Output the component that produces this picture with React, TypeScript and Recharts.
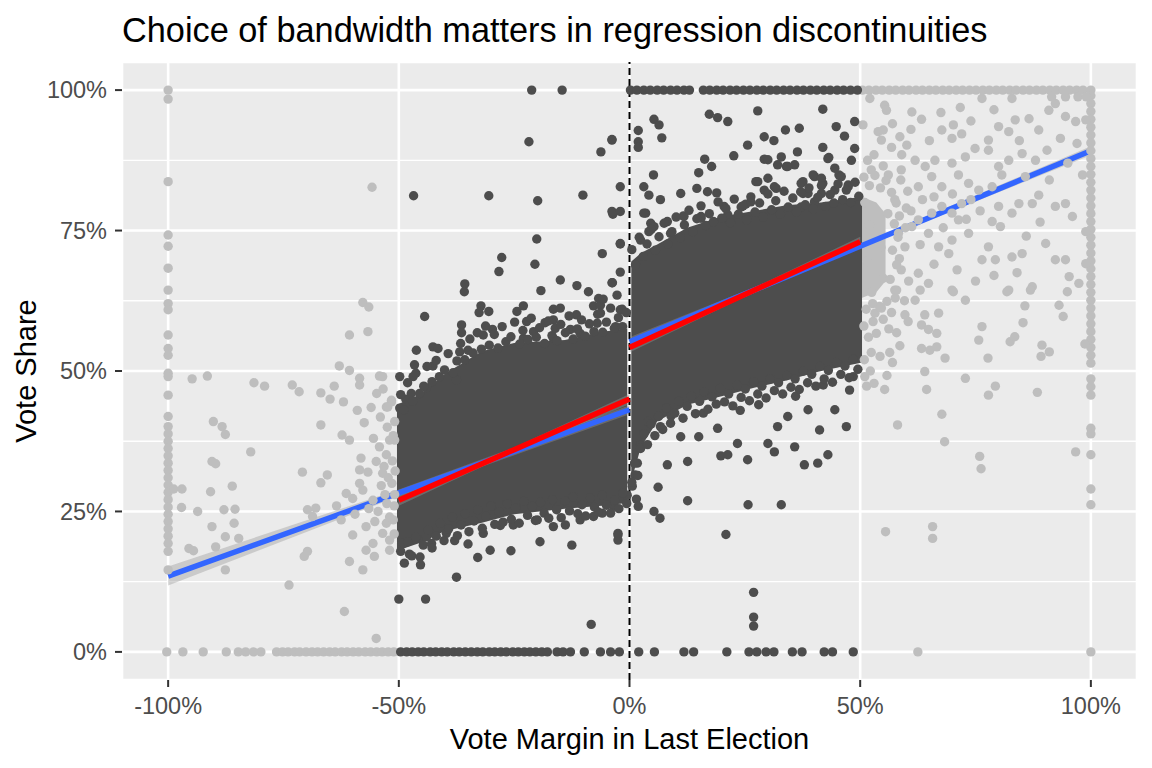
import {
  ComposedChart,
  Scatter,
  Area,
  Line,
  XAxis,
  YAxis,
  CartesianGrid,
  ReferenceLine,
  Label,
} from "recharts";

// values are in percent: x = vote margin, y = vote share
const xTicks = [-100, -50, 0, 50, 100];
const yTicks = [0, 25, 50, 75, 100];
const xMinorTicks = [-100, -75, -50, -25, 0, 25, 50, 75, 100];
const yMinorTicks = [0, 12.5, 25, 37.5, 50, 62.5, 75, 87.5, 100];

// rows of overlapping points at 0% and 100% vote share
const grayZeroRow = [
  -100.3, -96.8, -92.4, -87.4, -84.8, -83.2, -81.5, -79.9, -76.5, -75.2, -74.0,
  -72.6, -71.5, -70.1, -68.8, -67.6, -66.3, -65.0, -63.8, -62.4, -61.2, -59.9,
  -58.7, -57.3, -56.1, -54.8, -53.6, -52.3, -51.1, 62.5, 100.0,
];
const darkZeroRow = [
  -49.6, -48.3, -47.1, -45.8, -44.6, -43.2, -42.0, -40.7, -39.5, -38.1, -36.9,
  -35.6, -34.3, -33.0, -31.8, -30.4, -29.2, -27.9, -26.7, -25.3, -24.1, -22.8,
  -21.6, -20.3, -19.0, -17.8, -15.7, -14.4, -12.8, -9.8, -6.3, -4.1, -2.2, 2.0,
  5.4, 11.8, 13.9, 21.1, 25.9, 27.6, 29.6, 31.3, 35.3, 37.4, 42.2, 44.0, 48.5,
];
const darkTopRow = [
  0.2, 1.6, 3.1, 4.5, 6.0, 7.4, 8.9, 10.3, 11.8, 13.0, 16.0, 17.4, 18.9, 20.3,
  21.8, 23.2, 24.7, 26.1, 27.6, 29.0, 30.5, 31.9, 33.4, 34.8, 36.3, 37.7, 39.2,
  40.6, 42.1, 43.5, 45.0, 46.4, 47.9, 49.4,
];
const grayTopRow = [
  50.5, 51.9, 53.4, 54.8, 56.3, 57.7, 59.2, 60.6, 62.1, 63.5, 65.0, 66.4, 67.9,
  69.3, 70.8, 72.2, 73.7, 75.1, 76.6, 78.0, 79.5, 80.9, 82.4, 83.8, 85.3, 86.7,
  88.2, 89.6, 91.1, 92.5, 94.0, 95.4, 96.9, 98.3, 100.0,
];

// columns of points at -100% and +100% vote margin
const grayLeftCol = [
  100, 98.4, 83.7, 74.2, 72.2, 68.3, 64.4, 62.0, 60.9, 56.4, 54.0, 52.8, 49.6,
  49.0, 45.7, 41.9, 40.1, 38.8, 37.5, 36.2, 34.9, 33.6, 32.3, 31.0, 29.7, 28.4,
  27.1, 25.8, 24.5, 23.2, 21.9, 20.6, 19.3, 17.9, 14.6,
];
const grayRightCol = [
  99.0, 97.6, 96.2, 94.8, 93.4, 92.0, 90.6, 89.2, 87.8, 86.4, 85.0, 83.6, 82.2,
  80.8, 79.4, 78.0, 76.6, 75.2, 73.8, 72.4, 71.0, 69.6, 68.2, 66.8, 65.4, 64.0,
  62.6, 61.2, 59.8, 58.4, 57.0, 55.6, 54.2, 52.8, 51.4, 48.6, 47.2, 45.7, 39.8,
  38.8, 35.1, 29.0, 26.2,
];

const grayLeftPoints: [number, number][] = [
  [-94.8, 48.6], [-91.5, 49.1], [-90.2, 41.0], [-88.3, 40.1], [-87.6, 38.7],
  [-82.1, 35.6], [-81.4, 47.9], [-79.1, 47.3], [-90.5, 33.9], [-89.7, 33.5],
  [-98.8, 29.0], [-97.0, 29.0], [-90.8, 28.5], [-86.1, 29.5], [-97.1, 25.7],
  [-93.6, 25.0], [-87.9, 25.3], [-85.5, 25.4], [-85.7, 22.9], [-90.5, 22.3],
  [-87.6, 20.5], [-84.7, 20.2], [-95.5, 18.4], [-94.5, 18.0], [-89.7, 18.7],
  [-87.6, 14.6], [-73.1, 47.5], [-71.6, 46.3], [-66.9, 46.1], [-64.9, 45.0],
  [-64.0, 47.3], [-66.9, 40.4], [-62.9, 50.9], [-60.7, 50.1], [-58.5, 48.7],
  [-58.5, 47.5], [-54.2, 49.1], [-60.7, 56.4], [-56.7, 57.0], [-57.8, 62.2],
  [-56.5, 61.4], [-54.8, 46.0], [-51.6, 44.8], [-52.7, 43.6], [-57.5, 40.8],
  [-62.3, 38.6], [-60.7, 37.7], [-54.2, 36.5], [-52.7, 35.1], [-54.9, 33.9],
  [-70.9, 32.0], [-66.9, 30.1], [-58.5, 32.4], [-56.7, 32.0], [-53.5, 31.8],
  [-61.4, 28.2], [-60.0, 27.3], [-57.8, 28.8], [-55.6, 27.0], [-69.8, 25.3],
  [-68.0, 25.6], [-68.7, 24.1], [-62.5, 23.5], [-60.0, 20.8], [-57.1, 22.3],
  [-55.6, 19.3], [-57.1, 18.1], [-53.5, 21.1], [-52.0, 19.9], [-52.7, 22.9],
  [-55.3, 17.0], [-52.0, 18.1], [-60.7, 16.1], [-57.8, 14.6], [-70.5, 17.0],
  [-69.8, 17.9], [-73.8, 11.9], [-61.8, 7.2], [-54.9, 2.4], [-55.8, 82.7],
  [-53.5, 49.0], [-51.6, 44.5], [-52.4, 43.6], [-50.9, 37.7], [-52.0, 37.7],
  [-51.5, 30.0], [-51.0, 26.0], [-52.0, 24.0], [-51.0, 21.0], [-53.0, 28.0],
  [-54.5, 25.0], [-56.5, 25.5], [-58.5, 30.0], [-52.5, 40.0], [-51.2, 38.5],
  [-55.5, 38.0], [-53.2, 33.0], [-51.4, 34.0], [-58.2, 34.5], [-59.5, 24.5],
  [-63.5, 26.0], [-65.5, 31.5], [-59.0, 43.0], [-56.0, 43.5], [-62.0, 44.5],
  [-50.9, 28.0], [-51.2, 23.5], [-52.6, 26.4], [-53.8, 29.6], [-50.8, 32.2],
  [-52.3, 31.0], [-54.0, 41.8], [-50.9, 41.0], [-53.4, 46.8], [-55.2, 23.2],
];

const grayRightPoints: [number, number][] = [
  [52.1, 98.5], [55.3, 97.3], [55.7, 96.4], [61.2, 96.1], [63.3, 94.8],
  [67.5, 96.0], [71.7, 96.9], [76.4, 98.5], [82.9, 98.5], [50.6, 93.8],
  [53.9, 92.6], [55.0, 92.9], [58.6, 91.7], [60.1, 90.2], [54.6, 91.1],
  [56.8, 89.8], [67.7, 92.9], [69.9, 91.4], [72.0, 92.2], [70.2, 93.8],
  [77.8, 91.1], [80.0, 93.5], [82.2, 92.6], [83.6, 94.7], [86.6, 94.9],
  [88.7, 92.9], [90.9, 96.4], [92.3, 97.6], [94.5, 95.3], [96.7, 94.4],
  [98.9, 94.7], [93.4, 91.4], [90.5, 89.3], [88.0, 87.5], [85.1, 88.7],
  [82.2, 87.5], [80.0, 86.4], [77.8, 89.3], [74.9, 89.6], [72.8, 88.1],
  [66.2, 87.5], [64.1, 86.4], [61.9, 87.5], [69.9, 87.0], [71.3, 84.9],
  [58.9, 85.8], [56.1, 84.9], [52.4, 85.8], [65.5, 84.6], [67.7, 82.8],
  [62.6, 82.8], [73.5, 83.4], [75.7, 82.2], [78.6, 82.8], [80.7, 84.9],
  [85.8, 84.6], [88.7, 81.3], [87.3, 79.8], [98.2, 84.9], [92.3, 79.3],
  [94.5, 79.8], [96.0, 77.5], [98.9, 74.8], [84.4, 79.8], [82.9, 78.1],
  [80.0, 79.3], [78.6, 76.6], [80.4, 75.7], [72.0, 79.8], [69.9, 78.1],
  [67.7, 79.3], [71.3, 76.9], [73.5, 74.5], [69.9, 73.3], [65.5, 78.1],
  [62.6, 76.9], [64.8, 74.5], [61.2, 75.7], [58.3, 74.5], [59.7, 72.1],
  [67.0, 72.1], [69.2, 70.9], [77.8, 72.1], [79.3, 69.8], [76.4, 69.8],
  [82.9, 70.3], [85.1, 70.9], [90.2, 72.7], [92.3, 69.8], [94.5, 69.8],
  [95.3, 66.8], [97.4, 65.6], [98.9, 69.1], [87.3, 65.0], [82.2, 64.4],
  [58.9, 68.0], [62.6, 67.4], [64.8, 65.6], [69.9, 64.4], [72.8, 62.6],
  [61.9, 62.6], [57.5, 64.4], [53.2, 60.3], [54.6, 61.2], [52.8, 58.8],
  [53.5, 56.7], [56.8, 60.4], [59.7, 60.0], [60.4, 58.8], [57.9, 56.8],
  [63.3, 58.2], [64.8, 57.4], [66.6, 56.7], [67.0, 60.3], [64.0, 60.0],
  [63.3, 54.0], [65.1, 53.7], [66.6, 54.3], [52.4, 53.3], [54.3, 52.6],
  [56.4, 53.3], [68.4, 52.3], [64.0, 49.9], [51.4, 47.3], [55.3, 46.7],
  [64.4, 46.7], [72.8, 48.7], [77.8, 45.7], [79.3, 47.3], [88.4, 46.2],
  [77.7, 52.3], [75.7, 55.5], [76.4, 57.9], [82.5, 55.2], [83.5, 56.1],
  [85.3, 58.6], [85.7, 61.6], [89.4, 54.6], [91.0, 53.4], [89.2, 52.6],
  [93.1, 61.7], [94.0, 59.7], [70.2, 64.1], [81.8, 64.1], [86.9, 64.4],
  [94.9, 64.1], [63.0, 64.4], [57.9, 64.4], [67.7, 42.3], [58.1, 40.4],
  [68.3, 37.4], [75.9, 34.8], [76.2, 32.6], [55.5, 21.4], [65.7, 22.3],
  [65.7, 20.2], [98.7, 54.8], [96.7, 35.6], [91.5, 98.8], [94.5, 98.8],
  [97.2, 98.8], [99.0, 98.8], [57.5, 80.5], [60.0, 79.0], [63.5, 80.5],
  [66.0, 81.0], [70.0, 81.5], [74.0, 80.5], [76.0, 78.5], [73.0, 77.0],
  [68.0, 75.5], [63.0, 72.5], [66.0, 69.0], [71.0, 68.0], [75.0, 66.0],
  [79.0, 67.0], [84.0, 67.5], [86.0, 74.0], [89.0, 76.5], [91.0, 84.0],
  [95.0, 87.0], [97.0, 90.5], [84.5, 91.0], [79.0, 96.5], [74.0, 94.5],
  [65.0, 91.0], [61.0, 93.0], [59.0, 88.5], [57.0, 94.0], [53.0, 88.5],
  [51.0, 80.0], [52.0, 76.0], [54.5, 72.0], [56.0, 78.0], [58.5, 70.0],
  [55.0, 66.5], [51.5, 69.5], [52.5, 64.0],
  // fuzzy rim of the grey cloud just past the 50% cut-off
  [50.8, 84.5], [52.0, 83.0], [53.2, 84.8], [54.4, 82.6], [55.6, 83.9],
  [56.8, 81.8], [57.8, 79.9], [58.5, 77.6], [57.4, 76.2], [58.2, 73.8],
  [57.0, 71.5], [57.9, 68.9], [56.5, 66.3], [57.6, 63.0], [55.8, 62.4],
  [54.2, 61.5], [52.7, 62.0], [51.3, 61.0], [50.8, 58.0], [51.8, 56.0],
  [50.9, 52.0], [52.2, 50.0], [51.0, 49.0], [53.0, 47.8], [55.8, 49.2],
  [57.0, 51.5], [58.6, 54.5], [56.2, 57.5], [55.0, 59.2], [59.6, 62.5],
  [60.5, 66.0], [59.8, 75.5], [61.0, 78.5], [60.3, 82.0], [58.8, 84.0],
  [55.0, 86.5], [51.6, 87.5],
];

const darkLeftPoints: [number, number][] = [
  [-21.2, 100], [-14.6, 100], [-21.8, 90.8], [-3.8, 91.1], [-6.2, 89.0],
  [-46.8, 81.2], [-30.5, 81.2], [-19.9, 80.3], [-10.1, 81.3], [-3.6, 77.9],
  [-20.1, 73.5], [-27.7, 70.2], [-28.3, 67.7], [-20.5, 69.0], [-5.9, 70.9],
  [-2.0, 72.6], [-2.0, 67.6], [-15.0, 66.2], [-11.4, 65.2], [-8.9, 64.1],
  [-6.7, 62.9], [-3.8, 65.7], [-2.7, 63.5], [-35.7, 65.5], [-35.8, 64.1],
  [-19.2, 64.3], [-32.2, 61.6], [-32.6, 60.4], [-30.5, 60.6], [-24.4, 60.6],
  [-23.0, 61.6], [-44.4, 59.7], [-16.5, 61.0], [-15.0, 61.2], [-11.5, 60.0],
  [-7.8, 61.6], [-6.3, 61.7], [-1.6, 61.0], [-36.4, 58.2], [-36.4, 56.8],
  [-31.7, 56.4], [-29.7, 57.4], [-22.3, 58.8], [-20.8, 57.0], [-23.0, 55.8],
  [-18.3, 58.6], [-16.5, 59.1], [-16.1, 57.6], [-16.5, 55.8], [-10.7, 56.7],
  [-12.8, 57.4], [-6.3, 60.3], [-7.0, 58.5], [-2.0, 60.9], [-3.0, 57.9],
  [-46.2, 53.7], [-42.6, 54.3], [-41.5, 54.0], [-46.6, 51.1], [-42.6, 50.9],
  [-49.8, 49.0], [-46.9, 49.0], [-47.3, 46.0], [-36.8, 53.4], [-35.0, 53.7],
  [-37.5, 48.4], [-49.8, 43.4], [-44.0, 47.0], [-48.5, 45.0],
  [-50.0, 9.4], [-44.2, 9.4], [-37.5, 13.3], [-8.3, 4.9], [-45.3, 15.5],
  [-47.7, 17.4], [-32.9, 16.8], [-25.7, 18.0], [-19.4, 19.6], [-12.5, 19.0],
  [-2.5, 20.8], [-2.5, 19.9], [-37.9, 19.8], [-35.0, 19.2], [-30.2, 18.1],
  [-42.9, 19.3], [-49.1, 19.3], [-39.7, 21.1], [-31.7, 21.1], [-25.2, 22.6],
  [-16.5, 22.3], [-13.9, 22.6], [-10.7, 23.5], [-7.8, 24.1], [-5.9, 24.7],
  [-3.4, 25.9], [-2.5, 21.1], [-44.0, 20.5], [-20.0, 23.5], [-28.0, 22.5],
  [-0.5, 27.9],
];

// points along the ragged rims of the dense left cloud
const darkLeftRim: [number, number][] = [
  [-49.6, 45.8], [-48.9, 43.1], [-48.1, 47.9], [-47.0, 44.6], [-46.3, 49.6],
  [-45.5, 46.0], [-44.6, 47.3], [-43.9, 50.8], [-42.8, 48.1], [-41.9, 51.9],
  [-41.2, 49.0], [-40.1, 50.2], [-39.3, 53.1], [-38.2, 49.7], [-37.4, 51.8],
  [-36.6, 54.9], [-35.7, 52.0], [-34.6, 55.7], [-33.9, 53.2], [-33.0, 56.8],
  [-32.1, 53.9], [-31.2, 58.0], [-30.4, 54.6], [-29.3, 56.5], [-28.5, 54.1],
  [-27.6, 57.9], [-26.8, 55.2], [-25.7, 56.1], [-24.9, 58.7], [-23.8, 54.8],
  [-23.1, 57.2], [-22.0, 55.6], [-21.3, 59.4], [-20.2, 56.0], [-19.5, 57.7],
  [-18.4, 54.9], [-17.6, 58.9], [-16.8, 56.3], [-15.7, 55.4], [-14.9, 58.3],
  [-13.9, 56.8], [-13.1, 59.8], [-12.2, 55.7], [-11.3, 57.5], [-10.4, 59.1],
  [-9.6, 56.2], [-8.7, 58.4], [-7.7, 57.0], [-6.9, 60.1], [-5.8, 56.9],
  [-5.0, 58.7], [-4.1, 61.2], [-3.3, 57.6], [-2.4, 59.5], [-1.5, 57.9],
  [-0.7, 60.4],
  [-49.6, 17.9], [-48.8, 15.8], [-48.0, 19.6], [-47.2, 17.1], [-46.3, 20.4],
  [-45.4, 16.9], [-44.7, 19.0], [-43.6, 21.7], [-42.8, 18.5], [-41.9, 20.6],
  [-41.0, 22.9], [-40.2, 19.8], [-39.2, 21.9], [-38.4, 24.0], [-37.3, 20.7],
  [-36.5, 22.6], [-35.6, 24.6], [-34.8, 21.4], [-33.7, 23.3], [-32.9, 25.3],
  [-31.9, 22.0], [-31.1, 24.1], [-30.0, 26.0], [-29.2, 22.7], [-28.3, 24.9],
  [-27.4, 23.1], [-26.5, 26.4], [-25.6, 23.6], [-24.7, 25.6], [-23.9, 22.9],
  [-22.9, 26.8], [-22.1, 24.3], [-21.1, 25.9], [-20.4, 23.4], [-19.3, 26.6],
  [-18.5, 24.7], [-17.5, 23.8], [-16.7, 27.1], [-15.8, 25.3], [-14.8, 23.9],
  [-14.0, 26.9], [-13.0, 25.1], [-12.2, 27.6], [-11.2, 24.6], [-10.3, 26.2],
  [-9.5, 24.2], [-8.5, 27.4], [-7.6, 25.8], [-6.8, 24.9], [-5.9, 27.9],
  [-5.0, 26.1], [-4.1, 24.7], [-3.2, 27.0], [-2.3, 25.5], [-1.4, 28.3],
  [-0.6, 26.4],
];

const darkRightPoints: [number, number][] = [
  [-3.8, 91.2], [1.9, 92.8], [1.9, 90.8], [1.9, 89.8], [5.3, 94.8],
  [6.4, 93.8], [7.0, 91.5], [17.3, 95.7], [19.1, 95.1], [21.3, 94.4],
  [27.8, 96.3], [41.9, 96.6], [25.6, 90.2], [29.2, 91.7], [31.3, 91.0],
  [33.8, 92.9], [36.8, 93.2], [44.8, 93.5], [46.6, 91.8], [48.8, 94.4],
  [36.4, 89.0], [41.9, 89.8], [48.8, 89.6], [22.6, 88.3], [16.3, 87.7],
  [17.8, 86.4], [29.2, 87.7], [32.9, 88.1], [34.0, 86.4], [35.8, 86.7],
  [43.2, 88.0], [44.5, 86.1], [45.4, 84.9], [5.2, 84.9], [15.0, 85.3],
  [-2.0, 82.8], [3.1, 82.8], [4.2, 81.3], [6.7, 80.5], [11.1, 81.6],
  [14.6, 82.5], [16.9, 81.9], [18.9, 81.7], [27.8, 83.7], [30.0, 84.3],
  [31.8, 82.5], [37.6, 83.7], [37.6, 81.6], [40.1, 84.6], [41.9, 83.4],
  [47.4, 83.1], [-3.8, 78.4], [-2.0, 78.4], [3.5, 78.1], [4.6, 76.3],
  [8.2, 76.6], [11.7, 77.6], [15.5, 77.5], [20.5, 79.3], [25.2, 79.7],
  [-2.0, 72.7], [-3.7, 65.7], [-5.7, 62.8], [30.0, 87.6], [32.1, 86.7],
  [34.3, 86.4], [39.8, 84.9], [41.6, 84.3], [45.9, 84.6], [43.0, 87.8],
  [48.1, 87.5], [27.4, 83.7], [29.2, 82.2], [31.4, 82.8], [37.2, 83.4],
  [38.7, 81.6], [41.6, 81.6], [44.5, 82.2], [47.4, 82.8], [3.1, 78.1],
  [5.3, 75.7], [8.9, 74.5], [11.8, 77.5], [15.5, 77.2], [2.4, 73.3],
  [4.2, 74.8], [21.3, 77.8], [24.2, 79.2], [26.3, 80.1], [37.2, 79.2],
  [40.1, 80.1],
  [26.9, 10.6], [26.9, 6.2], [26.9, 4.6], [25.7, 26.2], [6.2, 29.3],
  [12.6, 26.9], [32.9, 26.2], [20.9, 20.9], [1.5, 27.2], [1.9, 25.9],
  [5.3, 25.0], [6.6, 23.8], [2.4, 36.8], [1.7, 33.6], [8.2, 33.3],
  [12.6, 33.9], [15.0, 38.3], [19.8, 34.9], [21.3, 35.1], [23.4, 37.1],
  [25.6, 34.2], [30.0, 37.1], [31.4, 35.6], [35.8, 36.5], [37.9, 33.3],
  [40.8, 33.6], [43.0, 35.1], [32.1, 40.1], [47.0, 40.1], [34.3, 41.9],
  [44.5, 43.1], [11.1, 38.3], [6.7, 40.1], [19.1, 39.8], [38.7, 43.1],
  [41.2, 39.5], [47.7, 46.6], [4.0, 41.0], [9.0, 42.0], [16.0, 42.5],
  [24.0, 43.0], [28.0, 44.0], [36.0, 45.5], [42.0, 47.5], [48.5, 49.0],
  [0.6, 29.5], [1.2, 31.5],
];

// points along the ragged rims of the dense right cloud
const darkRightRim: [number, number][] = [
  [0.5, 71.6], [1.3, 68.9], [2.1, 73.8], [3.0, 70.4], [3.8, 72.6],
  [4.7, 75.2], [5.6, 71.5], [6.4, 73.9], [7.5, 76.3], [8.3, 72.6],
  [9.2, 74.8], [10.1, 77.4], [11.0, 73.7], [11.9, 76.0], [12.9, 78.6],
  [13.7, 74.8], [14.6, 77.1], [15.5, 79.4], [16.5, 75.9], [17.3, 78.0],
  [18.2, 76.6], [19.2, 80.1], [20.0, 77.2], [20.9, 78.9], [21.9, 76.4],
  [22.7, 80.6], [23.6, 77.9], [24.6, 79.4], [25.4, 76.9], [26.3, 81.0],
  [27.2, 78.3], [28.2, 79.9], [29.0, 77.4], [30.0, 81.5], [30.8, 78.7],
  [31.7, 80.3], [32.7, 77.9], [33.5, 82.0], [34.4, 79.2], [35.4, 80.8],
  [36.2, 78.3], [37.1, 81.9], [38.1, 79.6], [38.9, 82.6], [39.8, 78.8],
  [40.8, 80.9], [41.6, 83.0], [42.5, 79.3], [43.5, 81.4], [44.3, 79.9],
  [45.2, 83.3], [46.2, 80.5], [47.0, 82.2], [47.9, 80.0], [48.9, 83.6],
  [49.7, 81.1],
  [0.5, 30.2], [1.1, 33.6], [1.8, 31.4], [2.4, 36.2], [3.1, 38.8],
  [3.9, 36.9], [4.7, 40.6], [5.5, 38.5], [6.3, 41.9], [7.2, 39.6],
  [8.0, 43.4], [8.9, 40.7], [9.8, 42.5], [10.7, 44.6], [11.6, 41.6],
  [12.5, 43.7], [13.4, 45.5], [14.3, 42.4], [15.2, 44.6], [16.1, 46.3],
  [17.0, 43.2], [17.9, 45.4], [18.8, 44.1], [19.7, 46.9], [20.6, 44.5],
  [21.5, 45.9], [22.4, 43.8], [23.3, 47.5], [24.2, 45.3], [25.1, 46.8],
  [26.0, 44.7], [26.9, 48.1], [27.8, 45.9], [28.7, 47.3], [29.6, 45.2],
  [30.5, 48.6], [31.4, 46.5], [32.3, 47.9], [33.2, 45.9], [34.1, 49.2],
  [35.0, 47.1], [35.9, 48.6], [36.8, 46.7], [37.7, 50.0], [38.6, 47.9],
  [39.5, 49.4], [40.4, 47.3], [41.3, 50.8], [42.2, 48.6], [43.1, 50.1],
  [44.0, 48.0], [44.9, 51.5], [45.8, 49.4], [46.7, 50.9], [47.6, 48.8],
  [48.5, 52.1], [49.5, 50.3],
];

// where the points overlap into solid clouds: [margin, low share, high share]
const leftCloud: [number, number, number][] = [
  [-50.4, 18, 44], [-45, 19.5, 46], [-40, 21.5, 49.5], [-32, 23, 53.5],
  [-25, 24.5, 55], [-14, 25.5, 55.5], [-6, 26, 57], [-0.5, 26.5, 57.5],
];
const rightCloud: [number, number, number][] = [
  [0.4, 30.5, 69.5], [2.5, 36.5, 71], [6, 41, 72.5], [12.5, 44, 75.5],
  [20, 45.5, 77.5], [27, 47, 78.5], [34, 48.3, 79.5], [41.5, 50, 80],
  [50.4, 51.5, 81],
];
const grayCloud: [number, number, number][] = [
  [50.3, 63, 81], [53.5, 64, 80], [55.5, 66, 78],
];

// linear fits and their confidence bands: [margin, fit, low, high]
const fullLeft: [number, number, number, number][] = [
  [-100, 13.5, 11.8, 15.2], [-50, 28.3, 27.7, 28.9], [0, 43.1, 42.3, 43.9],
];
const fullRight: [number, number, number, number][] = [
  [0, 55.2, 54.4, 56.0], [50, 72.2, 71.9, 72.5], [100, 89.2, 88.4, 90.0],
];
const narrowLeft: [number, number, number, number][] = [
  [-50, 27.0, 26.0, 28.0], [-25, 36.0, 35.6, 36.4], [0, 45.0, 44.1, 45.9],
];
const narrowRight: [number, number, number, number][] = [
  [0, 54.2, 53.3, 55.1], [25, 63.6, 63.2, 64.0], [50, 73.0, 72.1, 73.9],
];

const DARK = "#4d4d4d";
const LIGHT = "#bebebe";
const FONT = '"Liberation Sans", Arial, sans-serif';

const pairs = (list: [number, number][]) => list.map(([x, y]) => ({ x, y }));
const rowAt = (xs: number[], y: number) => xs.map((x) => ({ x, y }));
const colAt = (ys: number[], x: number) => ys.map((y) => ({ x, y }));
const cloud = (list: [number, number, number][]) =>
  list.map(([x, lo, hi]) => ({ x, band: [lo, hi] }));
const fitLine = (list: [number, number, number, number][]) =>
  list.map(([x, y, lo, hi]) => ({ x, y, band: [lo, hi] }));

const grayPoints = [
  ...rowAt(grayZeroRow, 0),
  ...rowAt(grayTopRow, 100),
  ...colAt(grayLeftCol, -100),
  ...colAt(grayRightCol, 100),
  ...pairs(grayLeftPoints),
  ...pairs(grayRightPoints),
];
const darkPoints = [
  ...rowAt(darkZeroRow, 0),
  ...rowAt(darkTopRow, 100),
  ...pairs(darkLeftPoints),
  ...pairs(darkLeftRim),
  ...pairs(darkRightPoints),
  ...pairs(darkRightRim),
];

const dot = (fill: string) => (props: any) =>
  <circle cx={props.cx} cy={props.cy} r={4.7} fill={fill} />;

const tickStyle = { fill: "#4d4d4d", fontSize: 23.5, fontFamily: FONT };
const tickLine = { stroke: "#333333", strokeWidth: 2 };
const pct = (v: number) => `${v}%`;

export default function App() {
  const cloudProps = {
    dataKey: "band",
    type: "linear" as const,
    fillOpacity: 1,
    stroke: "none",
    dot: false,
    activeDot: false,
    isAnimationActive: false,
  };
  const bandProps = { ...cloudProps, fill: "#999999", fillOpacity: 0.4 };
  const fitProps = {
    dataKey: "y",
    type: "linear" as const,
    strokeWidth: 5.5,
    dot: false,
    activeDot: false,
    isAnimationActive: false,
  };
  return (
    <div style={{ position: "relative", width: 1136, height: 752, fontFamily: FONT }}>
      <div
        style={{
          position: "absolute",
          left: 114,
          top: 5,
          fontSize: 34.3,
          lineHeight: "34px",
          color: "#000",
          whiteSpace: "nowrap",
        }}
      >
        Choice of bandwidth matters in regression discontinuities
      </div>
      <ComposedChart
        width={1136}
        height={752}
        margin={{ top: 54, right: 7, bottom: 0, left: 0 }}
        style={{ fontFamily: FONT }}
      >
        <XAxis
          dataKey="x"
          type="number"
          domain={[-110, 110]}
          ticks={xTicks}
          interval={0}
          allowDataOverflow
          tickFormatter={pct}
          height={80}
          axisLine={false}
          tickLine={tickLine}
          tickSize={7}
          tickMargin={10}
          tick={tickStyle}
        >
          <Label
            value="Vote Margin in Last Election"
            position="insideBottom"
            offset={11}
            fontSize={29}
            fill="#000"
          />
        </XAxis>
        <YAxis
          dataKey="y"
          type="number"
          domain={[-5, 105]}
          ticks={yTicks}
          interval={0}
          allowDataOverflow
          tickFormatter={pct}
          width={114}
          axisLine={false}
          tickLine={tickLine}
          tickSize={7}
          tickMargin={8}
          tick={tickStyle}
        >
          <Label
            value="Vote Share"
            angle={-90}
            position="insideLeft"
            offset={18}
            fontSize={29}
            fill="#000"
            style={{ textAnchor: "middle" }}
          />
        </YAxis>
        <XAxis
          xAxisId="minor"
          type="number"
          domain={[-110, 110]}
          ticks={xMinorTicks}
          interval={0}
          allowDataOverflow
          hide
        />
        <YAxis
          yAxisId="minor"
          type="number"
          domain={[-5, 105]}
          ticks={yMinorTicks}
          interval={0}
          allowDataOverflow
          hide
        />
        <CartesianGrid
          xAxisId="minor"
          yAxisId="minor"
          fill="#ebebeb"
          fillOpacity={1}
          stroke="#ffffff"
          strokeWidth={1.3}
        />
        <CartesianGrid stroke="#ffffff" strokeWidth={2.6} />

        <Scatter data={grayPoints} shape={dot(LIGHT)} isAnimationActive={false} />
        <Area data={cloud(grayCloud)} fill={LIGHT} {...cloudProps} />
        <Area data={cloud(leftCloud)} fill={DARK} {...cloudProps} />
        <Area data={cloud(rightCloud)} fill={DARK} {...cloudProps} />
        <Scatter data={darkPoints} shape={dot(DARK)} isAnimationActive={false} />

        <ReferenceLine x={0} stroke="#000" strokeWidth={2} strokeDasharray="7 4" />

        <Area data={fitLine(fullLeft)} {...bandProps} />
        <Area data={fitLine(fullRight)} {...bandProps} />
        <Line data={fitLine(fullLeft)} stroke="#3366ff" {...fitProps} />
        <Line data={fitLine(fullRight)} stroke="#3366ff" {...fitProps} />
        <Area data={fitLine(narrowLeft)} {...bandProps} />
        <Area data={fitLine(narrowRight)} {...bandProps} />
        <Line data={fitLine(narrowLeft)} stroke="#ff0000" {...fitProps} />
        <Line data={fitLine(narrowRight)} stroke="#ff0000" {...fitProps} />
      </ComposedChart>
    </div>
  );
}
